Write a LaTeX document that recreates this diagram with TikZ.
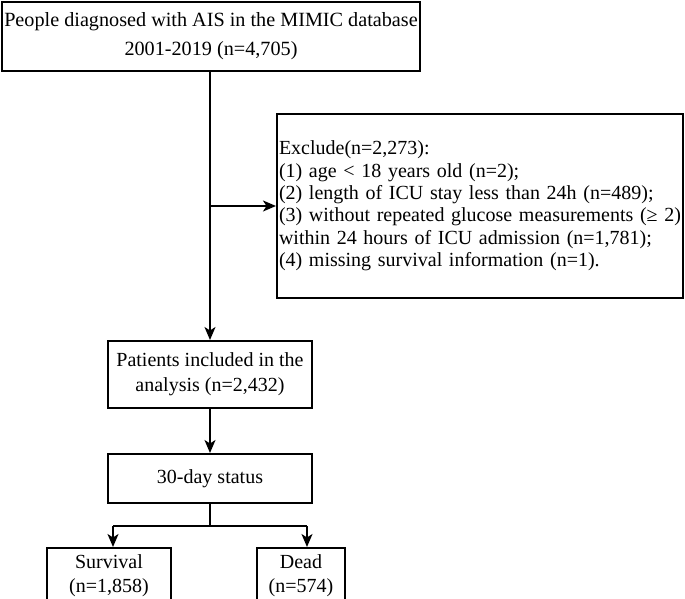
\documentclass[tikz,border=0pt]{standalone}
\usepackage{fontspec}
\setmainfont{Liberation Serif}
\usetikzlibrary{arrows.meta}
\begin{document}
\begin{tikzpicture}[x=1pt,y=1pt,
  box/.style={draw=black, line width=2pt, inner sep=0pt, align=center},
  arr/.style={line width=1.8pt, -{Stealth[length=13pt,width=11pt,inset=3.5pt]}},
  ln/.style={line width=1.8pt}]
\useasboundingbox (0,0) rectangle (685,-598);
\fill[white] (0,0) rectangle (685,-598);
\node[box, minimum width=418, minimum height=69, font=\fontsize{20.2}{29}\selectfont] (top) at (211,-36.5)
  {People diagnosed with AIS in the MIMIC database\\2001-2019 (n=4,705)};
\node[box, minimum width=406, minimum height=184, text width=402, align=left, font=\fontsize{20}{22.4}\selectfont] (excl) at (480,-206)
  {Exclude(n=2,273):\\(1) age < 18 years old (n=2);\\(2) length of ICU stay less than 24h (n=489);\\(3) without repeated glucose measurements (≥ 2)\\within 24 hours of ICU admission (n=1,781);\\(4) missing survival information (n=1).};
\node[box, minimum width=204, minimum height=67, font=\fontsize{20}{25}\selectfont] (pat) at (210,-374.5)
  {Patients included in the\\analysis (n=2,432)};
\node[box, minimum width=204, minimum height=49, font=\fontsize{20}{24}\selectfont] (stat) at (210,-478.5)
  {30-day status};
\node[box, minimum width=124, minimum height=56, font=\fontsize{20}{24}\selectfont] (surv) at (109,-576)
  {Survival\\(n=1,858)};
\node[box, minimum width=88, minimum height=56, font=\fontsize{20}{24}\selectfont] (dead) at (301,-576)
  {Dead\\(n=574)};
\draw[arr] (top.south -| pat.north) -- (pat.north);
\draw[arr] (pat.north |- excl.west) -- (excl.west);
\draw[arr] (pat.south) -- (stat.north);
\coordinate (jm) at (210,-526);
\coordinate (jl) at (113,-526);
\coordinate (jr) at (307,-526);
\draw[ln] (stat.south) -- (jm);
\draw[ln] (jl) -- (jr);
\draw[arr] (jl) -- (jl |- surv.north);
\draw[arr] (jr) -- (jr |- dead.north);
\end{tikzpicture}
\end{document}
